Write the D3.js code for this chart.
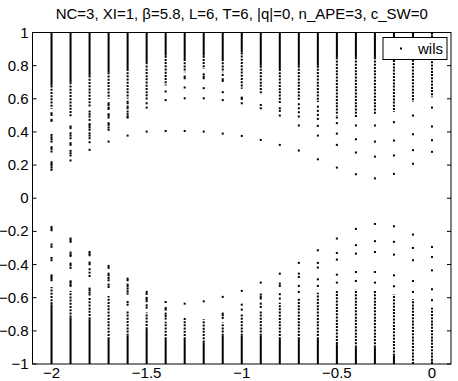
<!DOCTYPE html>
<html>
<head>
<meta charset="utf-8">
<script src="https://cdn.jsdelivr.net/npm/d3@7"></script>
<style>
  body { margin: 0; background: #fff; }
  svg { display: block; font-family: "Liberation Sans", Arial, Helvetica, sans-serif; }
</style>
</head>
<body>
<div id="plot"></div>
<script>
// column positions (x)
const columns = [-2, -1.9, -1.8, -1.7, -1.6, -1.5, -1.4, -1.3, -1.2, -1.1, -1.0,
                 -0.9, -0.8, -0.7, -0.6, -0.5, -0.4, -0.3, -0.2, -0.1, 0];

// upper band: solid from 1 down to upperSolidFrom, then densely dotted down to upperDottedFrom
const upperSolidFrom  = [0.68, 0.70, 0.74, 0.76, 0.78, 0.82, 0.86, 0.84, 0.86, 0.84, 0.88,
                         0.80, 0.78, 0.80, 0.80, 0.85, 0.85, 0.85, 0.95, 0.97, 1.0];
const upperDottedFrom = [0.54, 0.49, 0.55, 0.60, 0.60, 0.59, 0.68, 0.76, 0.78, 0.76, 0.66,
                         0.63, 0.57, 0.59, 0.58, 0.50, 0.49, 0.51, 0.52, 0.58, 0.61];
const upperPoints = [
  [0.513, 0.503, 0.473, 0.467, 0.382, 0.368, 0.356, 0.342, 0.308, 0.298, 0.282, 0.217, 0.207, 0.197, 0.185, 0.171],
  [0.433, 0.423, 0.392, 0.378, 0.362, 0.332, 0.322, 0.286, 0.272, 0.258, 0.228],
  [0.523, 0.507, 0.493, 0.473, 0.447, 0.439, 0.427, 0.413, 0.392, 0.378, 0.362, 0.338, 0.292],
  [0.573, 0.563, 0.547, 0.539, 0.507, 0.499, 0.487, 0.453, 0.443, 0.427, 0.413, 0.342],
  [0.583, 0.573, 0.553, 0.543, 0.523, 0.507, 0.493, 0.487, 0.378],
  [0.573, 0.547, 0.402],
  [0.644, 0.592, 0.406],
  [0.734, 0.724, 0.668, 0.603, 0.406],
  [0.748, 0.734, 0.724, 0.664, 0.603, 0.402],
  [0.744, 0.718, 0.708, 0.640, 0.592, 0.390],
  [0.607, 0.599, 0.573, 0.376],
  [0.563, 0.543, 0.352],
  [0.543, 0.527, 0.499, 0.322],
  [0.567, 0.543, 0.519, 0.493, 0.439, 0.288],
  [0.553, 0.527, 0.503, 0.479, 0.437, 0.378, 0.235],
  [0.487, 0.453, 0.390, 0.322, 0.185],
  [0.439, 0.356, 0.276, 0.145],
  [0.439, 0.342, 0.251, 0.120],
  [0.459, 0.348, 0.258, 0.147],
  [0.499, 0.386, 0.290, 0.208],
  [0.547, 0.433, 0.350, 0.280]
];

// lower band: solid from -1 up to lowerSolidTo, then dotted up to lowerDottedTo
const lowerSolidTo  = [-0.64, -0.72, -0.73, -0.85, -0.83, -0.79, -0.85, -0.85, -0.87, -0.83, -0.83,
                       -0.83, -0.85, -0.85, -0.85, -0.88, -0.90, -0.90, -0.95, -1.0, -1.0];
const lowerDottedTo = [-0.535, -0.56, -0.60, -0.59, -0.68, -0.69, -0.745, -0.72, -0.73, -0.75, -0.70,
                       -0.68, -0.63, -0.60, -0.57, -0.56, -0.55, -0.56, -0.58, -0.61, -0.66];
const lowerPoints = [
  [-0.173, -0.183, -0.193, -0.279, -0.293, -0.360, -0.374, -0.465, -0.475, -0.485, -0.495],
  [-0.243, -0.253, -0.263, -0.328, -0.340, -0.348, -0.394, -0.404, -0.420, -0.501, -0.509, -0.521, -0.529],
  [-0.324, -0.334, -0.344, -0.388, -0.398, -0.428, -0.449, -0.469, -0.545, -0.555, -0.569, -0.581],
  [-0.408, -0.420, -0.455, -0.465, -0.481, -0.495, -0.521, -0.535],
  [-0.485, -0.495, -0.521, -0.531, -0.545, -0.561, -0.575, -0.626, -0.642],
  [-0.565, -0.577, -0.601, -0.609, -0.621, -0.646, -0.660],
  [-0.626, -0.662, -0.672, -0.696, -0.710, -0.726],
  [-0.636],
  [-0.622],
  [-0.595, -0.696, -0.706, -0.722],
  [-0.559, -0.642, -0.672],
  [-0.509, -0.581, -0.595, -0.605, -0.636, -0.656],
  [-0.455, -0.515, -0.529, -0.579, -0.605],
  [-0.390, -0.455, -0.475, -0.529, -0.565],
  [-0.314, -0.390, -0.418, -0.489, -0.529],
  [-0.243, -0.330, -0.370, -0.461, -0.509],
  [-0.185, -0.283, -0.334, -0.445, -0.499],
  [-0.155, -0.259, -0.324, -0.445, -0.509],
  [-0.169, -0.263, -0.340, -0.465, -0.531],
  [-0.219, -0.300, -0.374, -0.499, -0.565],
  [-0.294, -0.354, -0.435, -0.549, -0.615]
];

const xTicks = [-2, -1.5, -1, -0.5, 0];
const yTicks = [-1, -0.8, -0.6, -0.4, -0.2, 0, 0.2, 0.4, 0.6, 0.8, 1];
const title = 'NC=3, XI=1, \u03b2=5.8, L=6, T=6, |q|=0, n_APE=3, c_SW=0';
const seriesName = 'wils';

const width = 458;
const height = 381;
const margin = {top: 32.5, right: 7, bottom: 17, left: 32.5};
const fontSize = 15;

const svg = d3.select('#plot').append('svg')
    .attr('width', width)
    .attr('height', height);

const x = d3.scaleLinear().domain([-2.1, 0.1]).range([margin.left, width - margin.right]);
const y = d3.scaleLinear().domain([-1, 1]).range([height - margin.bottom, margin.top]);

const fmt = d => d === 0 ? '0' : String(+d.toFixed(1)).replace('-', '\u2212');

const marks = svg.append('g');

// build segments from the arrays
const solid = [];
const dotted = [];
const pts = [];
columns.forEach((c, i) => {
  if (upperSolidFrom[i] < 1) solid.push({x: c, y0: 1, y1: upperSolidFrom[i]});
  dotted.push({x: c, y0: upperSolidFrom[i], y1: upperDottedFrom[i]});
  if (lowerSolidTo[i] > -1) solid.push({x: c, y0: -1, y1: lowerSolidTo[i]});
  dotted.push({x: c, y0: lowerSolidTo[i], y1: lowerDottedTo[i]});
  upperPoints[i].forEach(v => pts.push({x: c, y: v}));
  lowerPoints[i].forEach(v => pts.push({x: c, y: v}));
});

marks.selectAll('line.solid').data(solid).join('line')
    .attr('class', 'solid')
    .attr('x1', d => x(d.x)).attr('x2', d => x(d.x))
    .attr('y1', d => y(d.y0)).attr('y2', d => y(d.y1))
    .attr('stroke', '#000').attr('stroke-width', 2);

marks.selectAll('line.dotted').data(dotted).join('line')
    .attr('class', 'dotted')
    .attr('x1', d => x(d.x)).attr('x2', d => x(d.x))
    .attr('y1', d => y(d.y0)).attr('y2', d => y(d.y1))
    .attr('stroke', '#000').attr('stroke-width', 2)
    .attr('stroke-dasharray', '2,1.2');

marks.selectAll('rect.pt').data(pts).join('rect')
    .attr('class', 'pt')
    .attr('x', d => x(d.x) - 1).attr('y', d => y(d.y) - 1)
    .attr('width', 2).attr('height', 2)
    .attr('fill', '#000');

// axes box and ticks (ticks inside on all sides)
const axes = svg.append('g').attr('stroke', '#000').attr('stroke-width', 1);
const L = x(-2.1), R = x(0.1), T = y(1), B = y(-1);
axes.append('rect')
    .attr('x', L).attr('y', T).attr('width', R - L).attr('height', B - T)
    .attr('fill', 'none');

axes.selectAll('line.yt').data(yTicks).join('line')
    .attr('class', 'yt')
    .attr('x1', L).attr('x2', L + 4)
    .attr('y1', d => y(d)).attr('y2', d => y(d));
axes.selectAll('line.yt2').data(yTicks).join('line')
    .attr('class', 'yt2')
    .attr('x1', R).attr('x2', R - 4)
    .attr('y1', d => y(d)).attr('y2', d => y(d));
axes.selectAll('line.xt').data(xTicks).join('line')
    .attr('class', 'xt')
    .attr('x1', d => x(d)).attr('x2', d => x(d))
    .attr('y1', B).attr('y2', B - 4);
axes.selectAll('line.xt2').data(xTicks).join('line')
    .attr('class', 'xt2')
    .attr('x1', d => x(d)).attr('x2', d => x(d))
    .attr('y1', T).attr('y2', T + 4);

svg.append('g').selectAll('text').data(yTicks).join('text')
    .attr('x', L - 4)
    .attr('y', d => y(d) + 5)
    .attr('text-anchor', 'end')
    .attr('font-size', fontSize)
    .text(fmt);

svg.append('g').selectAll('text').data(xTicks).join('text')
    .attr('x', d => x(d))
    .attr('y', B + 13.5)
    .attr('text-anchor', 'middle')
    .attr('font-size', fontSize)
    .text(fmt);

svg.append('text')
    .attr('x', (L + R) / 2)
    .attr('y', 18.5)
    .attr('text-anchor', 'middle')
    .attr('font-size', fontSize)
    .text(title);

// legend
const lg = svg.append('g');
lg.append('rect')
    .attr('x', 383).attr('y', 37.5).attr('width', 64).attr('height', 22)
    .attr('fill', '#fff').attr('stroke', '#000');
lg.append('rect')
    .attr('x', 400).attr('y', 47.5).attr('width', 2).attr('height', 2)
    .attr('fill', '#000');
lg.append('text')
    .attr('x', 418).attr('y', 54)
    .attr('font-size', fontSize)
    .text(seriesName);
</script>
</body>
</html>
